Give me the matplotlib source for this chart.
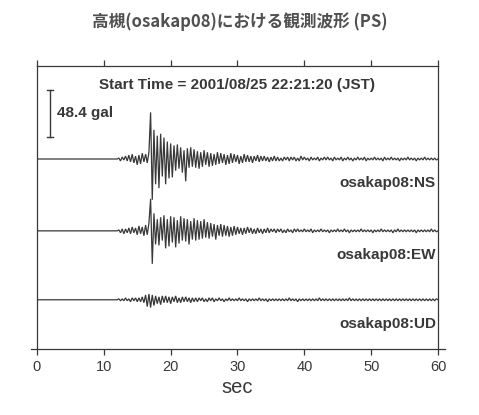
import numpy as np
import matplotlib
matplotlib.use('Agg')
import matplotlib.pyplot as plt

t_inicio = 12.0
paso = 0.25

ns = [0, 1, -2, 2, -1, 3, -2, 4,
      -3, 5, -4, 3, -6, 4, -5, 6,
      -3, 5, -4, 7, 48, -42, 30, -26,
      24, -30, 26, -18, 22, -26, 18, -20,
      16, -19, 14, -12, 15, -10, 12, -14,
      9, -23, 11, -9, 12, -8, 10, -9,
      8, -10, 7, -8, 9, -6, 7, -8,
      6, -7, 5, -6, 7, -5, 6, -4,
      5, -6, 4, -5, 6, -4, 5, -3,
      4, -5, 3, -4, 5, -3, 4, -3,
      3, -4, 3, -2, 4, -3, 3, -2,
      3, -2, 2, -3, 2, -2, 3, -2,
      2, -2, 1, -2, 2, -1, 2, -2,
      2, -1, 2, -2, 1, -2, 3, -1,
      2, -1, 1, -2, 2, -1, 1, -1,
      2, -2, 1, -1, 2, -1, 2, -1,
      1, -2, 2, -1, 1, -1, 2, -2,
      1, -1, 2, -1, 1, -2, 1, -1,
      2, -1, 1, -1, 2, -2, 1, -1,
      1, -1, 2, -1, 1, -1, 1, -2,
      2, -1, 1, -1, 2, -1, 1, -1,
      1, -2, 1, -1, 1, -1, 2, -1,
      1, -1, 1, -2, 1, -1, 1, -1,
      2, -1, 1, -1, 1, -1, 1, -1,
      0]

ew = [0, 1, -2, 2, -3, 2, -2, 3,
      -3, 4, -2, 3, -4, 5, -3, 4,
      -5, 6, -4, 8, 33, -34, 18, -14,
      12, -15, 14, -10, 16, -18, 12, -16,
      15, -12, 14, -17, 11, -13, 15, -10,
      13, -11, 12, -14, 10, -9, 13, -10,
      11, -9, 10, -8, 12, -7, 9, -8,
      8, -6, 7, -9, 6, -5, 7, -6,
      6, -5, 5, -6, 4, -5, 5, -4,
      4, -3, 3, -4, 3, -3, 4, -2,
      3, -3, 2, -3, 3, -2, 2, -3,
      2, -2, 3, -2, 2, -1, 2, -2,
      2, -1, 2, -2, 1, -2, 2, -1,
      1, -2, 2, -1, 2, -1, 1, -1,
      2, -1, 1, -1, 2, -2, 1, -1,
      1, -1, 2, -1, 1, -1, 1, -2,
      1, -1, 1, -1, 2, -1, 1, -1,
      2, -1, 1, -2, 1, -1, 1, -1,
      1, -1, 2, -1, 1, -1, 1, -1,
      1, -2, 1, -1, 1, -1, 2, -1,
      1, -1, 1, -1, 1, -2, 1, -1,
      2, -1, 1, -1, 1, -1, 1, -1,
      1, -1, 1, -2, 1, -1, 1, -1,
      1, -1, 1, -1, 2, -1, 1, -1,
      0]

ud = [0, 1, -1, 1, -1, 2, -1, 1,
      -2, 2, -1, 2, -2, 2, -2, 3,
      -3, 5, -7, 6, -8, 5, -6, 4,
      -4, 3, -5, 4, -3, 4, -3, 3,
      -4, 3, -2, 4, -3, 2, -3, 3,
      -2, 3, -2, 2, -3, 2, -2, 2,
      -2, 2, -1, 2, -2, 1, -2, 2,
      -1, 2, -2, 1, -1, 2, -1, 1,
      -2, 1, -1, 2, -1, 1, -1, 1,
      -1, 2, -1, 1, -1, 1, -2, 1,
      -1, 1, -1, 1, -1, 2, -1, 1,
      -1, 1, -2, 1, -1, 1, -1, 1,
      -1, 1, -1, 1, -1, 1, -1, 2,
      -1, 1, -1, 1, -2, 1, -1, 1,
      -1, 1, -1, 1, -1, 1, -1, 1,
      -1, 2, -1, 1, -1, 1, -1, 1,
      -1, 1, -1, 1, -1, 1, -1, 1,
      -1, 1, -1, 2, -1, 1, -1, 1,
      -1, 1, -1, 1, -1, 1, -1, 1,
      -1, 1, -1, 1, -1, 1, -1, 1,
      -1, 1, -1, 1, -1, 1, -1, 1,
      -1, 1, -1, 1, -1, 1, -1, 1,
      -1, 1, -1, 1, -1, 1, -1, 1,
      -1, 1, -1, 1, -1, 1, -1, 1,
      0]

componentes = ['NS', 'EW', 'UD']
desplazamientos = [0, -74, -145]   # linea base de cada traza (gal)
estacion = 'osakap08'
escala_gal = 48.4
ticks_x = [0, 10, 20, 30, 40, 50, 60]

gris = '#383838'
fuente = 'Liberation Sans'

fig = plt.figure(figsize=(4.79, 4.15), dpi=100)
ax = fig.add_axes([0.0772, 0.159, 0.8372, 0.682])

t = t_inicio + paso * np.arange(len(ns))
for datos, off in zip([ns, ew, ud], desplazamientos):
    x = np.concatenate([[0.0], t])
    y = np.concatenate([[0.0], np.array(datos, dtype=float)]) + off
    ax.plot(x, y, color=gris, lw=0.9, solid_joinstyle='miter')

# barra de escala
y0 = 22.7
ax.plot([1.95, 1.95], [y0, y0 + escala_gal], color=gris, lw=1.0)
ax.plot([1.55, 2.35], [y0, y0], color=gris, lw=1.0)
ax.plot([1.55, 2.35], [y0 + escala_gal, y0 + escala_gal], color=gris, lw=1.0)
ax.text(3.0, y0 + escala_gal / 2, f'{escala_gal} gal', fontsize=11, fontweight='bold',
        family=fuente, color=gris, va='center', ha='left')

ax.text(29.9, 76, 'Start Time = 2001/08/25 22:21:20 (JST)', fontsize=11,
        fontweight='bold', family=fuente, color=gris, ha='center', va='center')

for comp, off in zip(componentes, desplazamientos):
    ax.text(59.7, off - 25, f'{estacion}:{comp}', fontsize=11, fontweight='bold',
            family=fuente, color=gris, ha='right', va='center')

ax.set_xlim(0, 60)
ax.set_ylim(-195.7, 95.8)
ax.set_xticks(ticks_x)
ax.set_yticks([])
ax.tick_params(axis='x', top=True, direction='out', length=4, width=0.9,
               colors=gris, labelsize=10.5, pad=4)
for lab in ax.get_xticklabels():
    lab.set_family(fuente)
for sp in ax.spines.values():
    sp.set_color(gris)
    sp.set_linewidth(0.9)
ax.spines['bottom'].set_visible(False)
ax.plot([-0.015, 1.017], [0, 0], transform=ax.transAxes, color=gris, lw=0.9,
        clip_on=False)

ax.set_xlabel('sec', fontsize=14.5, family=fuente, color=gris, labelpad=3)

fig.text(0.501, 0.947, '高槻(osakap08)における観測波形 (PS)', ha='center', va='center',
         fontsize=12, fontweight='bold', family=['Noto Sans CJK JP', 'DejaVu Sans'],
         color='#505050')

fig.savefig('out.png', dpi=100)
